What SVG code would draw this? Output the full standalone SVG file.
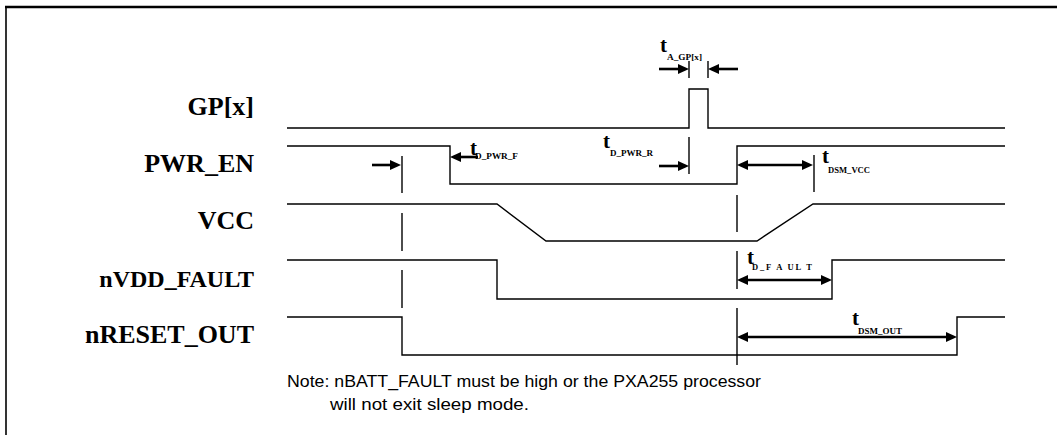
<svg xmlns="http://www.w3.org/2000/svg" width="1057" height="435" viewBox="0 0 1057 435">
<style>
.bg{fill:#fff}
.frame{stroke:#000;fill:none}
.sig{fill:none;stroke:#000;stroke-width:1.4}
.tick{stroke:#000;stroke-width:1.4;fill:none}
.arr{stroke:#000;stroke-width:2.6;fill:none}
.lbl{font-family:"Liberation Serif","Times New Roman",serif;font-weight:bold;font-size:26px;fill:#000;text-anchor:end}
.t{font-family:"Liberation Serif","Times New Roman",serif;font-weight:bold;font-size:21px;fill:#000}
.sub{font-family:"Liberation Serif","Times New Roman",serif;font-weight:bold;font-size:8.5px;fill:#000}
.note{font-family:"Liberation Sans",Arial,sans-serif;font-size:17px;fill:#000}
</style>
<defs>
<marker id="ah" viewBox="0 0 11 10" refX="5" refY="5" markerWidth="11" markerHeight="10" markerUnits="userSpaceOnUse" orient="auto-start-reverse">
<path d="M0,0 L11,5 L0,10 Z" fill="#000"/>
</marker>
</defs>
<rect class="bg" x="0" y="0" width="1057" height="435"/>
<g id="frame">
<line class="frame" x1="5" y1="7" x2="1057" y2="7" stroke-width="2.5"/>
<line class="frame" x1="6" y1="7" x2="6" y2="435" stroke-width="1.6"/>
</g>
<g id="labels">
<text class="lbl" x="254" y="115">GP[x]</text>
<text class="lbl" x="254" y="172">PWR_EN</text>
<text class="lbl" x="254" y="229">VCC</text>
<text class="lbl" x="254" y="287" style="font-size:24px">nVDD_FAULT</text>
<text class="lbl" x="254" y="343">nRESET_OUT</text>
</g>
<g id="sig-gpx"><polyline class="sig" points="287,128 689,128 689,89 708,89 708,128 1005,128"/></g>
<g id="sig-pwr_en"><polyline class="sig" points="287,146 450,146 450,184 737,184 737,146 1005,146"/></g>
<g id="sig-vcc"><polyline class="sig" points="287,204 497,204 546,241 757,241 813,204 1005,204"/></g>
<g id="sig-nvdd_fault"><polyline class="sig" points="287,260 497,260 497,299 832,299 832,260 1005,260"/></g>
<g id="sig-nreset_out"><polyline class="sig" points="287,317 402,317 402,355 957,355 957,317 1005,317"/></g>
<g id="connectors">
<line class="tick" x1="402" y1="156" x2="402" y2="193"/>
<line class="tick" x1="402" y1="213" x2="402" y2="251"/>
<line class="tick" x1="402" y1="270" x2="402" y2="308"/>
<line class="tick" x1="737" y1="195" x2="737" y2="232"/>
<line class="tick" x1="737" y1="251" x2="737" y2="289"/>
<line class="tick" x1="737" y1="308" x2="737" y2="365"/>
<line class="tick" x1="689" y1="137" x2="689" y2="174"/>
<line class="tick" x1="689" y1="61" x2="689" y2="78"/>
<line class="tick" x1="708" y1="61" x2="708" y2="78"/>
<line class="tick" x1="814" y1="155" x2="814" y2="192"/>
<line class="arr" x1="372" y1="165" x2="395" y2="165" marker-end="url(#ah)"/>
<line class="arr" x1="478" y1="157" x2="456" y2="157" marker-end="url(#ah)"/>
<line class="arr" x1="659" y1="166" x2="683" y2="166" marker-end="url(#ah)"/>
<line class="arr" x1="659" y1="69" x2="683" y2="69" marker-end="url(#ah)"/>
<line class="arr" x1="738" y1="69" x2="714" y2="69" marker-end="url(#ah)"/>
<line class="arr" x1="743" y1="165" x2="807" y2="165" marker-start="url(#ah)" marker-end="url(#ah)"/>
<line class="arr" x1="743" y1="280" x2="826" y2="280" marker-start="url(#ah)" marker-end="url(#ah)"/>
<line class="arr" x1="743" y1="337" x2="951" y2="337" marker-start="url(#ah)" marker-end="url(#ah)"/>
</g>
<g id="timing-labels">
<text class="t" x="660" y="52">t</text><text class="sub" x="667" y="60" textLength="35" lengthAdjust="spacingAndGlyphs">A_GP[x]</text>
<text class="t" x="470" y="155">t</text><text class="sub" x="475" y="159" textLength="43" lengthAdjust="spacingAndGlyphs">D_PWR_F</text>
<text class="t" x="603" y="148">t</text><text class="sub" x="610" y="156" textLength="43" lengthAdjust="spacingAndGlyphs">D_PWR_R</text>
<text class="t" x="822" y="163">t</text><text class="sub" x="828" y="173" textLength="42" lengthAdjust="spacingAndGlyphs">DSM_VCC</text>
<text class="t" x="747" y="264">t</text><text class="sub" x="752" y="270" textLength="60" lengthAdjust="spacing">D_F A UL T</text>
<text class="t" x="852" y="325">t</text><text class="sub" x="858" y="334" textLength="44" lengthAdjust="spacingAndGlyphs">DSM_OUT</text>
</g>
<g id="note">
<text class="note" x="287" y="387" textLength="474" lengthAdjust="spacingAndGlyphs">Note: nBATT_FAULT must be high or the PXA255 processor</text>
<text class="note" x="330" y="410" textLength="199" lengthAdjust="spacingAndGlyphs">will not exit sleep mode.</text>
</g>
</svg>
